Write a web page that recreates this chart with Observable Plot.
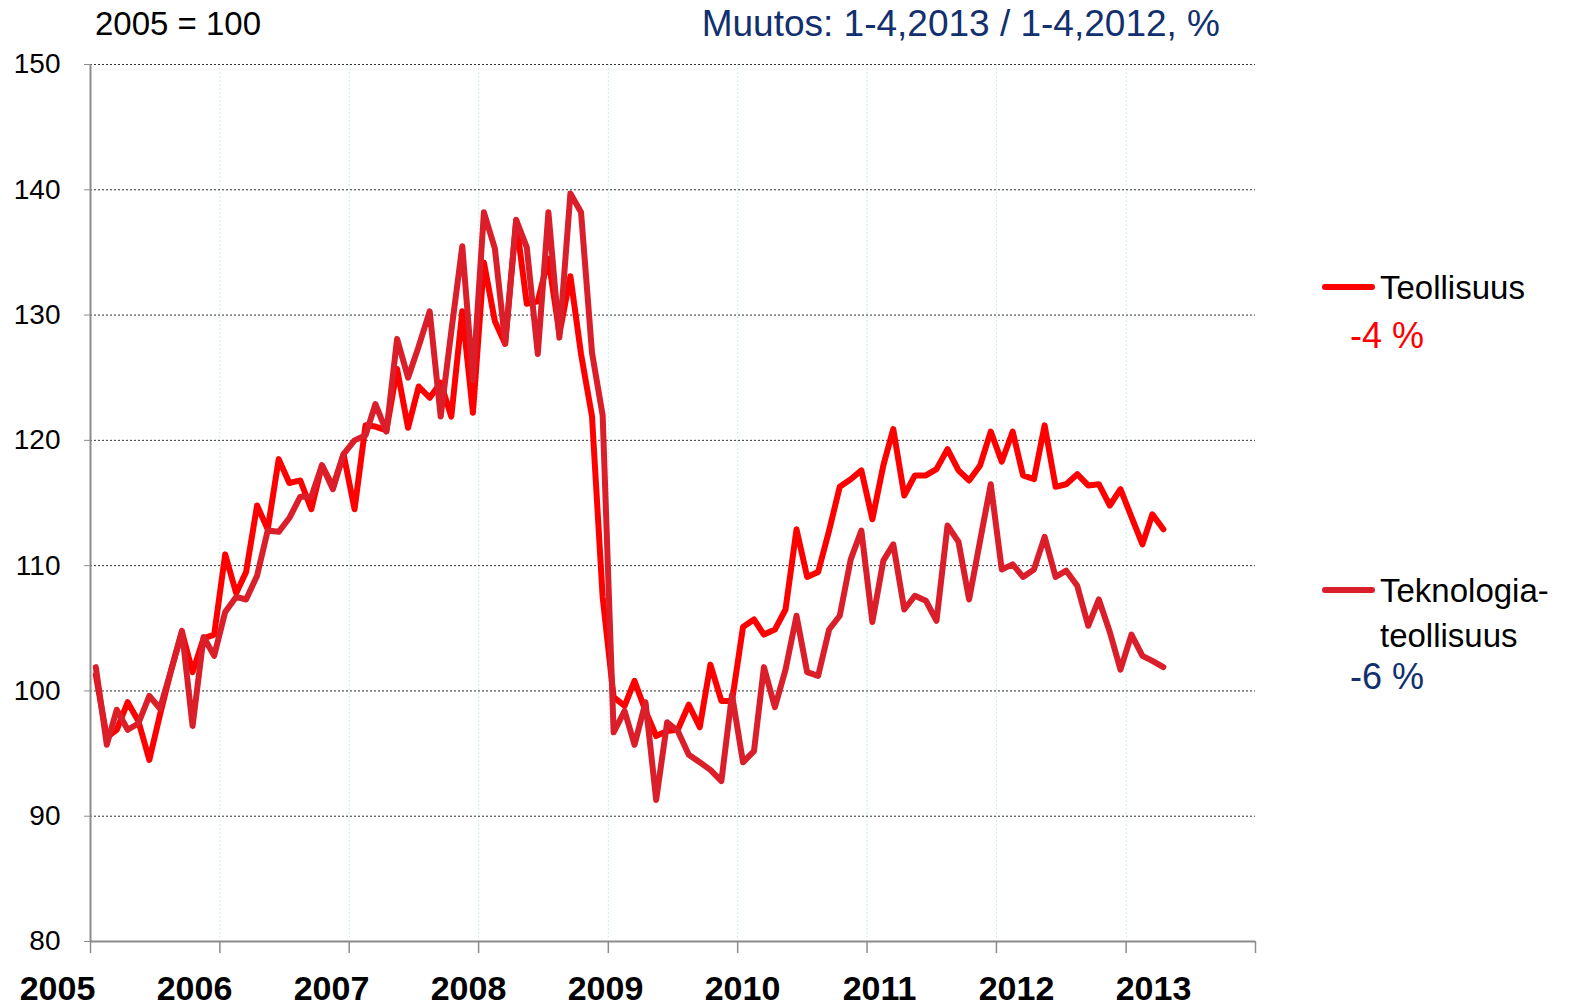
<!DOCTYPE html>
<html>
<head>
<meta charset="utf-8">
<script src="https://cdn.jsdelivr.net/npm/d3@7"></script>
<script src="https://cdn.jsdelivr.net/npm/@observablehq/plot@0.6"></script>
<style>
  html, body { margin: 0; padding: 0; background: #fff; }
  #wrap { position: relative; width: 1573px; height: 1006px; font-family: "Liberation Sans", Arial, sans-serif; overflow: hidden; }
  .t { position: absolute; white-space: nowrap; line-height: 1; }
  .sw { position: absolute; height: 6px; border-radius: 3px; }
  svg { display: block; }
</style>
</head>
<body>
<div id="wrap">
  <div id="chart"></div>
  <div id="xlabels"></div>
  <div class="t" style="left:95px; top:7px; font-size:33px; color:#000;">2005 = 100</div>
  <div class="t" style="right:353px; top:5px; font-size:37px; color:#12306e;">Muutos: 1-4,2013 / 1-4,2012, %</div>
  <div class="sw" style="left:1322px; top:284px; width:53px; background:#ff0000;"></div>
  <div class="t" style="left:1380px; top:271px; font-size:33px; color:#000;">Teollisuus</div>
  <div class="t" style="left:1350px; top:318px; font-size:36px; color:#ff0000;">-4 %</div>
  <div class="sw" style="left:1322px; top:587px; width:53px; background:#da1f2b;"></div>
  <div class="t" style="left:1380px; top:574px; font-size:33px; color:#000;">Teknologia-</div>
  <div class="t" style="left:1380px; top:619px; font-size:33px; color:#000;">teollisuus</div>
  <div class="t" style="left:1350px; top:659px; font-size:36px; color:#12306e;">-6 %</div>
</div>
<script>
// Monthly index, 2005 = 100, January 2005 – April 2013
const startYear = 2005;
const seriesNames = ["Teollisuus", "Teknologiateollisuus"];
const teollisuus = [
  101.3, 96.3, 96.9, 99.1, 97.6, 94.5, 98.1, 101.6, 104.7, 101.5, 104.2, 104.5,
  110.9, 107.8, 109.5, 114.8, 112.9, 118.5, 116.6, 116.8, 114.5, 118.0, 116.3, 118.9,
  114.5, 121.2, 121.1, 120.8, 125.7, 121.0, 124.3, 123.4, 124.6, 121.9, 130.3, 122.2,
  134.2, 129.5, 127.7, 137.5, 130.9, 131.1, 134.5, 128.5, 133.1, 126.9, 121.9, 107.5,
  99.5, 98.8, 100.8, 98.4, 96.4, 96.8, 96.9, 98.9, 97.1, 102.1, 99.2, 99.2,
  105.1, 105.7, 104.5, 104.9, 106.5, 112.9, 109.1, 109.5, 112.8, 116.3, 116.9, 117.6,
  113.7, 118.0, 120.9, 115.6, 117.2, 117.2, 117.7, 119.3, 117.6, 116.8, 118.0, 120.7,
  118.3, 120.7, 117.2, 116.9, 121.2, 116.3, 116.5, 117.3, 116.4, 116.5, 114.8, 116.1,
  113.9, 111.7, 114.1, 112.9
];
const teknologia = [
  101.9, 95.7, 98.5, 96.9, 97.4, 99.6, 98.6, 101.6, 104.8, 97.2, 104.3, 102.8,
  106.3, 107.5, 107.3, 109.2, 112.8, 112.7, 113.8, 115.5, 115.5, 118.0, 116.1, 118.9,
  120.0, 120.4, 122.9, 120.7, 128.1, 125.0, 127.5, 130.3, 121.9, 128.7, 135.5, 124.8,
  138.2, 135.3, 127.8, 137.6, 135.4, 126.9, 138.2, 128.2, 139.7, 138.2, 127.0, 122.0,
  96.7, 98.4, 95.7, 99.1, 91.3, 97.5, 96.8, 94.9, 94.3, 93.7, 92.8, 99.7,
  94.3, 95.2, 101.9, 98.7, 101.7, 106.0, 101.5, 101.2, 104.9, 106.0, 110.5, 112.8,
  105.5, 110.4, 111.7, 106.5, 107.6, 107.2, 105.6, 113.2, 111.9, 107.3, 112.0, 116.5,
  109.7, 110.1, 109.1, 109.7, 112.3, 109.1, 109.6, 108.4, 105.2, 107.3, 104.7, 101.7,
  104.5, 102.8, 102.4, 101.9
];
const yTicks = [80, 90, 100, 110, 120, 130, 140, 150];
const yearTicks = [2005, 2006, 2007, 2008, 2009, 2010, 2011, 2012, 2013, 2014];
const yearLabels = ["2005", "2006", "2007", "2008", "2009", "2010", "2011", "2012", "2013"];
const colors = { "Teollisuus": "#ff0000", "Teknologiateollisuus": "#da1f2b" };

const toDate = (i) => new Date(Date.UTC(startYear, i, 16));
const rows1 = teollisuus.map((v, i) => ({ date: toDate(i), value: v, series: seriesNames[0] }));
const rows2 = teknologia.map((v, i) => ({ date: toDate(i), value: v, series: seriesNames[1] }));
const yearDates = yearTicks.map(y => new Date(Date.UTC(y, 0, 1)));

const lineStyle = { strokeWidth: 6, strokeLinejoin: "round", strokeLinecap: "round" };

const chart = Plot.plot({
  width: 1573,
  height: 962,
  marginLeft: 90,
  marginRight: 318,
  marginTop: 64,
  marginBottom: 21,
  style: { fontFamily: "Liberation Sans, Arial, sans-serif", background: "white", overflow: "visible" },
  x: { type: "utc", domain: [yearDates[0], yearDates[yearDates.length - 1]], axis: null },
  y: { domain: [80, 150], axis: null },
  marks: [
    Plot.ruleX(yearDates.slice(1, -1), { stroke: "#cdebf3", strokeWidth: 1, strokeDasharray: "2,2" }),
    Plot.ruleY(yTicks.filter(v => v > 80), { stroke: "#333", strokeWidth: 1, strokeDasharray: "2,2" }),
    Plot.line(rows1, { x: "date", y: "value", stroke: colors["Teollisuus"], ...lineStyle }),
    Plot.line(rows2, { x: "date", y: "value", stroke: colors["Teknologiateollisuus"], ...lineStyle }),
    Plot.axisY({ ticks: yTicks, label: null, tickSize: 6, tickPadding: 24, fontSize: 28, stroke: "#8c8c8c", fill: "#000", tickFormat: d => String(d) }),
    Plot.ruleX([yearDates[0]], { stroke: "#8c8c8c", strokeWidth: 2 }),
    Plot.axisX({ ticks: yearDates, label: null, tickSize: 12, tickFormat: () => "", stroke: "#8c8c8c", strokeWidth: 1.5 }),
    Plot.ruleY([80], { stroke: "#8c8c8c", strokeWidth: 2 })
  ]
});
// make sure the line width is applied on the path groups
chart.querySelectorAll('g[aria-label="line"]').forEach(g => {
  g.setAttribute("stroke-width", lineStyle.strokeWidth);
  g.querySelectorAll("path").forEach(p => p.setAttribute("stroke-width", lineStyle.strokeWidth));
});
document.getElementById("chart").appendChild(chart);

const labels = Plot.plot({
  width: 1573,
  height: 44,
  marginLeft: 55,
  marginRight: 419,
  marginTop: 0,
  marginBottom: 0,
  style: { fontFamily: "Liberation Sans, Arial, sans-serif", background: "transparent" },
  x: { type: "point", domain: yearLabels, padding: 0, axis: null },
  marks: [
    Plot.text(yearLabels, { x: d => d, text: d => d, frameAnchor: "middle", dy: 5, fontSize: 34, fontWeight: "bold", fill: "#000" })
  ]
});
document.getElementById("xlabels").appendChild(labels);
</script>
</body>
</html>
